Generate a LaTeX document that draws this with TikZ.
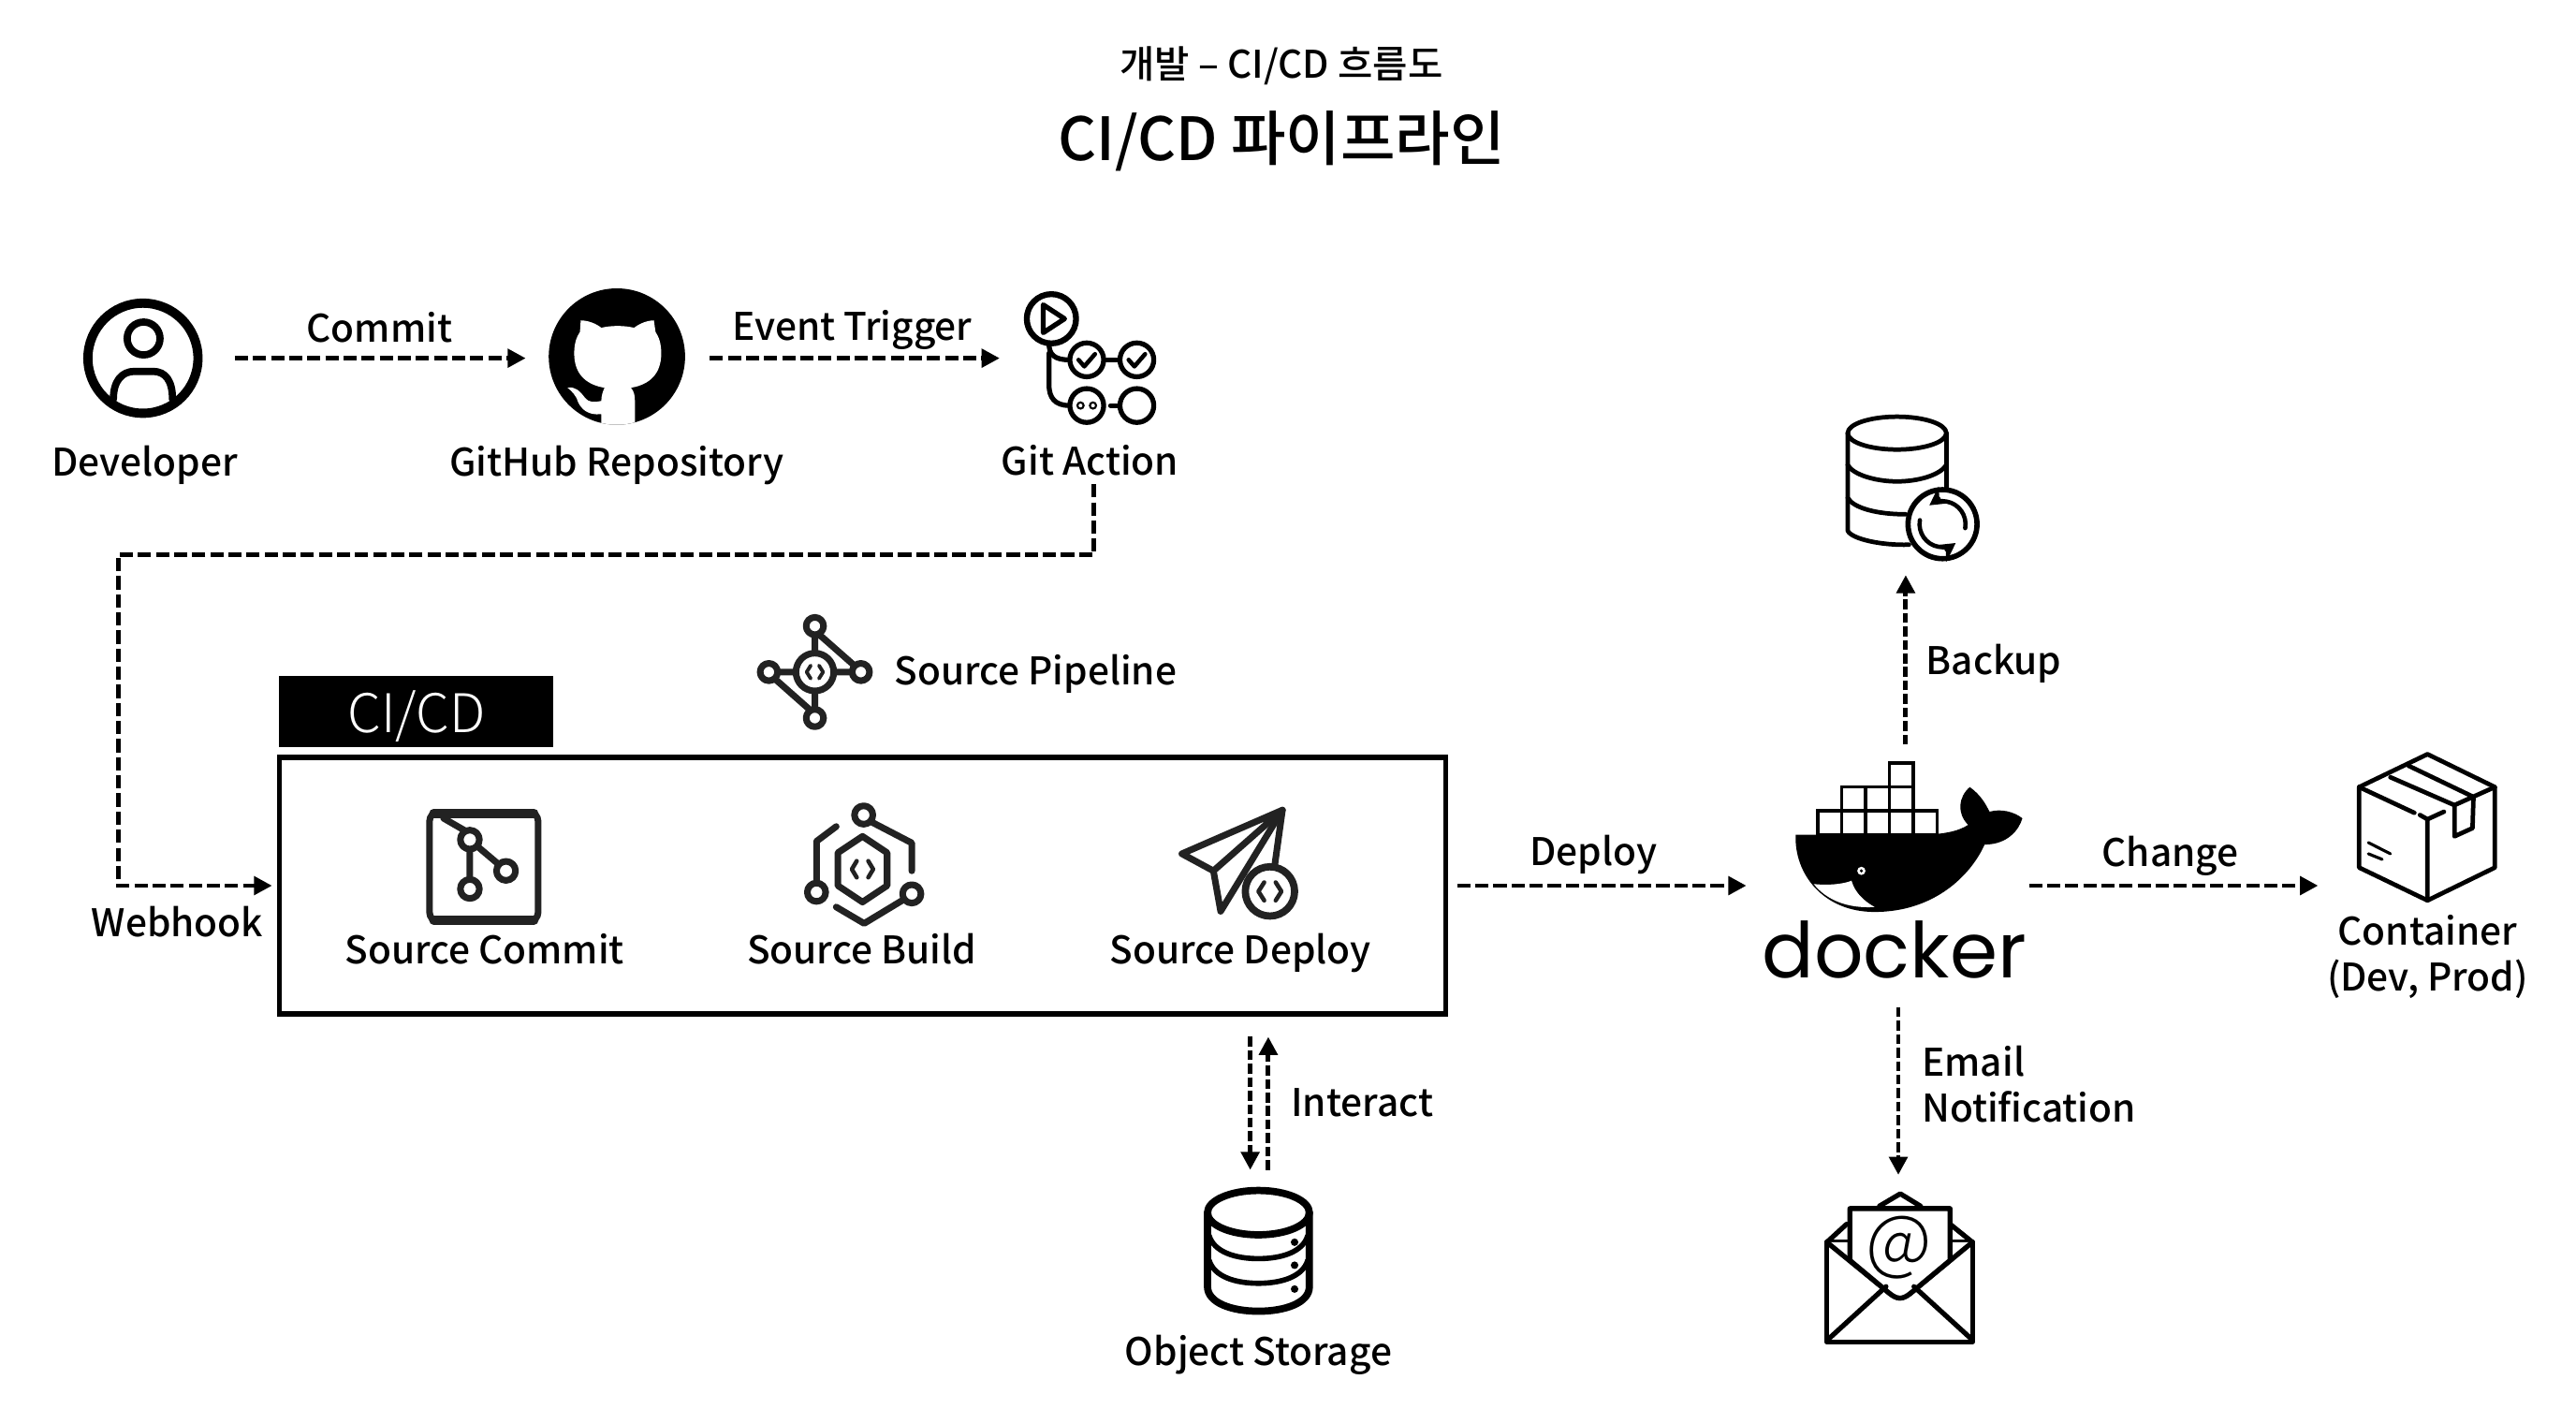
\documentclass[tikz,border=0pt]{standalone}
\usepackage{fontspec}
\setmainfont{Noto Sans CJK KR Medium}
\newfontfamily\thinfont{Noto Sans CJK KR Light}
\newfontfamily\dockerfont{Poppins}
\usetikzlibrary{arrows.meta}
\definecolor{inkdark}{HTML}{222222}
\tikzset{
	flow/.style={line width=1.4pt,dash pattern=on 4pt off 1.5pt,-{Triangle[length=5.5pt,width=5.5pt]}},
	flowv/.style={flow,dash pattern=on 3pt off 1.1pt},
	slot/.style 2 args={inner sep=0pt,outer sep=0pt,minimum width=#1*0.017551cm,minimum height=#2*0.017551cm},
	lbl/.style={font=\fontsize{11.55}{14}\selectfont,inner sep=0pt,anchor=base},
	lblw/.style={lbl,anchor=base west},
	ico/.style={line width=1.35pt,line cap=round,line join=round},
	icod/.style={ico,draw=inkdark,line width=2pt}
}
\begin{document}
\begin{tikzpicture}[x=0.017551cm,y=-0.017551cm]
	\useasboundingbox (0,0) rectangle (1568,857.5);

	\node[lbl,font=\fontsize{11.55}{14}\selectfont] (subtitle) at (780,47.5) {개발 – CI/CD 흐름도};
	\node[lbl,font=\fontsize{18.1}{20}\selectfont] (title) at (780,98) {CI/CD 파이프라인};

	\node[slot={112}{80}] (dev) at (87,218) {};
	\node[slot={112}{80}] (github) at (376,218) {};
	\node[slot={112}{80}] (action) at (664.5,218) {};
	\node[lbl] (lbldev) at (88,290) {Developer};
	\node[lbl] (lblgithub) at (375.4,290) {GitHub Repository};
	\node[lbl] (lblaction) at (663.5,289) {Git Action};
	\node[lbl] (lblcommit) at (231,208) {Commit};
	\node[lbl] (lblevent) at (518.7,207) {Event Trigger};

	\draw[flow] (dev) -- (github);
	\draw[flow] (github) -- (action);

	\draw[line width=2.8pt] (87,218) circle[radius=33.5];
	\draw[line width=2.2pt] (87.4,206) circle[radius=10];
	\draw[ico,line width=2.2pt] (69,243) .. controls (69,232) and (74,226) .. (82,226) -- (93,226) .. controls (101,226) and (105,232) .. (105,243);

	\fill (375.5,217) circle[radius=41.5];
	\begin{scope}
		\clip (375.5,217) circle[radius=41.5];
		\fill[white] (366,262) -- (366,252) .. controls (358,253) and (354,249) .. (352,245) .. controls (351,241) and (348,238) .. (345.5,236) .. controls (350,235) and (353,238) .. (356,242) .. controls (358,245) and (362,245) .. (366,244) .. controls (366,241) and (367,238) .. (368,236) .. controls (356,234) and (349.5,227) .. (349.5,215) .. controls (349.5,209) and (351,205) .. (353,202) -- (353.5,195) .. controls (358,195) and (363,197) .. (366,199.5) .. controls (372,198) and (380,198) .. (386,199.5) .. controls (389,197) and (394,195) .. (398,195) -- (399,202) .. controls (401,205) and (402.5,209) .. (402.5,215) .. controls (402.5,227) and (396,234) .. (384,236) .. controls (386,238) and (386.5,241) .. (386.5,245) -- (386.5,262) -- cycle;
	\end{scope}

	\draw[ico,line width=1.8pt] (640,194) circle[radius=15];
	\draw[ico,line width=1.5pt] (635,185.5) -- (648,194) -- (635,202.5) -- cycle;
	\draw[ico,line width=1.5pt] (661.5,219) circle[radius=10.3];
	\draw[ico,line width=1.5pt] (692,219) circle[radius=10.3];
	\draw[ico,line width=1.5pt] (661.5,246.8) circle[radius=10.3];
	\draw[ico,line width=1.5pt] (692,246.8) circle[radius=10.3];
	\draw[ico,line width=1.5pt] (638.5,209) .. controls (638.5,216) and (642,219) .. (651,219);
	\draw[ico,line width=1.5pt] (638.5,215) -- (638.5,234) .. controls (638.5,242) and (642,246.8) .. (651,246.8);
	\draw[ico,line width=1.5pt] (672,219) -- (681.5,219);
	\draw[ico,line width=1.5pt] (676,246.8) -- (681.5,246.8);
	\draw[ico,line width=1.3pt] (656.5,219) -- (660,223) -- (666.5,215.5);
	\draw[ico,line width=1.3pt] (687,219) -- (690.5,223) -- (697,215.5);
	\draw[line width=0.6pt] (657.7,246.8) circle[radius=1.9];
	\draw[line width=0.6pt] (665.3,246.8) circle[radius=1.9];

	\node[slot={167}{43},fill=black,text=white,font=\thinfont\fontsize{16.2}{18}\selectfont] (tab) at (253.5,433) {\raisebox{-6.5pt}[0pt][0pt]{CI/CD}};
	\node[slot={710}{156},draw=black,line width=1.5pt] (cicdbox) at (525,539) {};
	\node[lbl] (lblwebhook) at (108,570) {Webhook};
	\draw[flow,shorten <=2.5pt,shorten >=2.2pt] ([xshift=1.2pt]lblaction.south) -- ++(0,48) -- ++(-594,0) |- (cicdbox.west);

	\foreach \px/\py in {496/381,496/437,468/409,524/409}
		\draw[icod] (\px,\py) circle[radius=5.3];
	\draw[icod] (496,409) circle[radius=11.5];
	\draw[icod] (496,387) -- (496,397) (499,386.5) -- (520,405) (496,421) -- (496,431.5) (493,432) -- (471.5,413) (474,409) -- (484.5,409) (507.5,409) -- (518,409);
	\draw[icod,line width=1.1pt] (493.5,405) -- (491,409) -- (493.5,413) (498.5,405) -- (501,409) -- (498.5,413);
	\node[lblw] (lblpipeline) at (544,417) {Source Pipeline};

	\draw[icod,rounded corners=2.5pt] (261.5,494.5) rectangle (327.5,560.5);
	\draw[icod,line width=2.8pt] (264,495) -- (325,495) (264,560) -- (325,560);
	\draw[icod] (286,511) circle[radius=5.8] (308,530) circle[radius=5.8] (286,541) circle[radius=5.8];
	\draw[icod] (270,498) -- (283,505.5) (286,517) -- (286,535) (290.5,515) -- (303.5,526);
	\node[lbl] (lblsrccommit) at (295,586.5) {Source Commit};

	\draw[icod] (525,509) -- (540,519) -- (540,539) -- (525,549) -- (510,539) -- (510,519) -- cycle;
	\draw[icod,line width=1.3pt] (521.5,524) -- (518.5,529) -- (521.5,534) (528.5,524) -- (531.5,529) -- (528.5,534);
	\draw[icod] (525.7,496) circle[radius=5.6] (497,543) circle[radius=5.6] (555,544) circle[radius=5.6];
	\draw[icod] (530,500) -- (555,513) -- (555,530) (509,503) -- (497,512) -- (497,537) (550,547.5) -- (526,562) -- (509,552);
	\node[lbl] (lblsrcbuild) at (524.4,586.5) {Source Build};

	\draw[icod] (780.6,493) -- (719.4,519.6) -- (738.6,530) -- cycle;
	\draw[icod] (738.6,530) -- (743,554.6) -- (780.6,493);
	\draw[icod] (780.6,493) -- (776,526);
	\draw[icod,fill=white,line width=2.2pt] (773,542.5) circle[radius=15];
	\draw[icod,line width=1.3pt] (769.5,537) -- (766,542.5) -- (769.5,548) (776.5,537) -- (780,542.5) -- (776.5,548);
	\node[lbl] (lblsrcdeploy) at (755,586.5) {Source Deploy};

	\node[slot={172}{172}] (docker) at (1149,539) {};
	\node[slot={132}{80}] (crate) at (1477,539) {};
	\node[slot={80}{100}] (backup) at (1160,300) {};
	\node[slot={90}{110}] (mail) at (1155.5,770) {};
	\node[slot={70}{88}] (storage) at (766,756) {};
	\coordinate (boxout) at (761,631);
	\coordinate (boxin) at (772,631);
	\coordinate (dbin) at (761,712);
	\coordinate (dbout) at (772,712);

	\draw[flow,shorten <=3.5pt] (cicdbox) -- (docker);
	\draw[flow] (docker) -- (crate);
	\draw[flowv] (docker.north -| backup.south) -- (backup.south);
	\draw[flowv,shorten <=-6pt] (docker.south -| mail.north) -- (mail.north);
	\draw[flowv] (boxout) -- (dbin);
	\draw[flowv] (dbout) -- (boxin);
	\node[lbl] (lbldeploy) at (970,526.5) {Deploy};
	\node[lbl] (lblchange) at (1321,527.5) {Change};
	\node[lblw] (lblbackup) at (1172,410.5) {Backup};
	\node[lblw] (lblinteract) at (785.5,679.5) {Interact};
	\node[lbl,align=left,anchor=west] (lblmail) at (1169.5,660) {Email\\Notification};
	\node[lbl,align=center,anchor=center] (lblcrate) at (1477.6,582.5) {Container\\(Dev, Prod)};
	\node[lbl] (lblstorage) at (766,831) {Object Storage};

	\foreach \bx/\by in {1106.5/493.5,1121/493.5,1135.5/493.5,1150/493.5,1164.5/493.5,1121/479,1135.5/479,1150/479,1150/464.5}
		\draw[line width=1pt] (\bx,\by) rectangle ++(14.5,14.5);
	\fill (1093,508) -- (1168,508) .. controls (1182,508) and (1192,506) .. (1198,502) .. controls (1191,495) and (1192,485) .. (1199,479) .. controls (1206,484) and (1209,490) .. (1211,494) .. controls (1218,492) and (1226,494) .. (1231,498) .. controls (1229,505) and (1222,514) .. (1208,514) .. controls (1200,532) and (1178,555) .. (1141,555) .. controls (1110,555) and (1092,532) .. cycle;
	\fill[white] (1104,538) .. controls (1113,539) and (1122,538) .. (1127,536) .. controls (1129,543) and (1134,548) .. (1141,552) .. controls (1125,553) and (1112,548) .. cycle;
	\fill[white] (1133,530) circle[radius=2.5];
	\fill (1133,530) circle[radius=1];
	\node[lbl,font=\dockerfont\fontsize{23.4}{26}\selectfont] (lbldocker) at (1153,595) {docker};

	\draw[ico] (1477.6,459) -- (1518.6,479) -- (1518.6,528) -- (1477.6,548) -- (1436,528) -- (1436,479) -- cycle;
	\draw[ico] (1436,479) -- (1469.6,494.7) (1477.6,498.6) -- (1477.6,548) (1477.6,498.6) -- (1487.6,494) (1477.6,498.6) -- (1473,496);
	\draw[ico] (1518.6,479) -- (1494,490) (1455,473) -- (1494,490) -- (1494,509) -- (1505,504) -- (1505.6,485) (1466,466) -- (1505.6,485);
	\draw[ico,line width=0.9pt] (1441.6,512.8) -- (1455,519.6) (1441.6,519.6) -- (1450,523);

	\draw[ico] (1154.7,263.6) circle[x radius=30,y radius=10];
	\draw[ico] (1124.7,263.6) -- (1124.7,323) .. controls (1127,328) and (1145,332) .. (1162,331.5);
	\draw[ico] (1184.7,263.6) -- (1184.7,298);
	\draw[ico] (1124.7,283) .. controls (1128,289) and (1142,293) .. (1154.7,293) .. controls (1168,293) and (1181,289) .. (1184.7,283);
	\draw[ico] (1124.7,303) .. controls (1128,309) and (1142,313) .. (1160,313);
	\draw[ico,fill=white,line width=1.6pt] (1182.4,319) circle[radius=21];
	\draw[ico,line width=1.3pt,-{Stealth[length=5.5pt,width=6pt]}] ([shift={(1182.4,319)}]10:14) arc[start angle=10,end angle=-125,radius=14];
	\draw[ico,line width=1.3pt,-{Stealth[length=5.5pt,width=6pt]}] ([shift={(1182.4,319)}]-170:14) arc[start angle=-170,end angle=-305,radius=14];

	\draw[ico,line width=2.2pt] (766,738) circle[x radius=31,y radius=13.5];
	\draw[ico,line width=2.2pt] (735,738) -- (735,783) .. controls (735,793) and (750,798) .. (766,798) .. controls (782,798) and (797,793) .. (797,783) -- (797,738);
	\draw[ico,line width=1.6pt] (736,752) .. controls (739,762) and (752,766) .. (766,766) .. controls (780,766) and (793,762) .. (796,752);
	\draw[ico,line width=1.6pt] (736,767) .. controls (739,777) and (752,781) .. (766,781) .. controls (780,781) and (793,777) .. (796,767);
	\fill (788,756) circle[radius=2.3] (788,770) circle[radius=2.3] (788,784.5) circle[radius=2.3];

	\draw[ico,line width=1.5pt] (1112,756) rectangle (1200.6,816.6);
	\draw[ico,line width=1.5pt] (1112,756) -- (1124,745) (1187,745) -- (1200.6,756) (1144,734) -- (1156.7,726.5) -- (1169,734);
	\draw[ico,fill=white,line width=1.5pt] (1112,756) -- (1150,787) .. controls (1155,791) and (1158,791) .. (1163,787) -- (1200.6,756);
	\draw[ico,fill=white,line width=1.5pt] (1126,767) -- (1126,735.5) -- (1187,735.5) -- (1187,767) -- (1163,787) .. controls (1158,791) and (1155,791) .. (1150,787) -- cycle;
	\draw[ico,line width=1.5pt] (1114,814) -- (1148,783) (1199,814) -- (1165,783);
	\node[lbl,font=\thinfont\fontsize{22}{24}\selectfont,anchor=center] (lblat) at (1156,759) {@};
\end{tikzpicture}
\end{document}
